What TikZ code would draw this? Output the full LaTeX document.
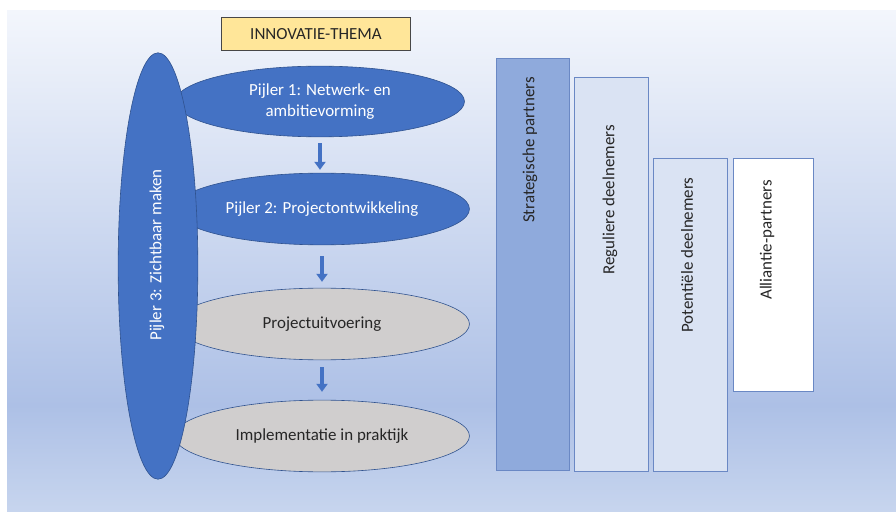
\documentclass[tikz,border=0pt]{standalone}
\usepackage{fontspec}
\setmainfont{Carlito}
\usetikzlibrary{shapes.geometric,arrows.meta}
\definecolor{bgtop}{HTML}{F3F6FC}
\definecolor{bgmid}{HTML}{ADC0E6}
\definecolor{bgbot}{HTML}{C7D5EE}
\definecolor{pblue}{HTML}{4472C4}
\definecolor{pdark}{HTML}{2F528F}
\definecolor{pgray}{HTML}{D0CECE}
\definecolor{stratfill}{HTML}{8FAADC}
\definecolor{lightfill}{HTML}{DAE3F3}
\definecolor{rectline}{HTML}{6A88C4}
\definecolor{themafill}{HTML}{FFE699}
\definecolor{txtdark}{HTML}{262626}
\begin{document}
\begin{tikzpicture}[x=1bp,y=-1bp,
  every node/.style={font=\fontsize{17}{20.5}\selectfont},
  pill/.style={ellipse, inner sep=0pt, draw=pdark, line width=0.6pt},
  bluepill/.style={pill, fill=pblue, text=white},
  graypill/.style={pill, fill=pgray, text=txtdark},
  bar/.style={rectangle, draw=rectline, line width=1pt, inner sep=0pt, anchor=north west},
  bartext/.style={rotate=90, text=txtdark, inner sep=0pt},
  flow/.style={pblue, line width=4.2pt, -{Triangle[width=11bp,length=8bp]}}
]
\useasboundingbox (0,0) rectangle (896,512);
\fill[white] (0,0) rectangle (896,512);
\shade[top color=bgtop, bottom color=bgmid] (7,11) rectangle (896,405.5);
\shade[top color=bgmid, bottom color=bgbot] (7,405) rectangle (896,512);

% theme box
\node[rectangle, draw=txtdark!85, fill=themafill, line width=0.9pt, minimum width=190, minimum height=34, inner sep=0pt, text=txtdark] (thema) at (316,34) {INNOVATIE-THEMA};

% pillar ellipses
\node[bluepill, minimum width=290, minimum height=71, align=center] (e1) at (320,101.5) {Pijler 1: Netwerk- en\\ambitievorming};
\node[bluepill, minimum width=296, minimum height=72] (e2) at (322,209) {Pijler 2: Projectontwikkeling};
\node[graypill, minimum width=296, minimum height=72] (e3) at (322,324) {Projectuitvoering};
\node[graypill, minimum width=296, minimum height=72] (e4) at (322,436) {Implementatie in praktijk};

% big vertical ellipse
\node[bluepill, minimum width=80, minimum height=428] (big) at (158,266) {};
\node[rotate=90, text=white, inner sep=0pt] (bigtext) at (157,255) {Pijler 3: Zichtbaar maken};

% arrows
\draw[flow, shorten <=6bp, shorten >=3bp] (e1.south) -- (e1.south |- e2.north);
\draw[flow, shorten <=11bp, shorten >=6bp] (e2.south) -- (e2.south |- e3.north);
\draw[flow, shorten <=7bp, shorten >=8bp] (e3.south) -- (e3.south |- e4.north);

% bars
\node[bar, fill=stratfill, minimum width=73, minimum height=414] (r1) at (496,58) {};
\node[bar, fill=lightfill, minimum width=74, minimum height=395] (r2) at (574,77) {};
\node[bar, fill=lightfill, minimum width=74, minimum height=314] (r3) at (653,158) {};
\node[bar, fill=white, minimum width=80, minimum height=234] (r4) at (733,158) {};

\node[bartext] (t1) at (530,150) {Strategische partners};
\node[bartext] (t2) at (610,200) {Reguliere deelnemers};
\node[bartext] (t3) at (687,255) {Potentiële deelnemers};
\node[bartext] (t4) at (767,240) {Alliantie-partners};
\end{tikzpicture}
\end{document}
